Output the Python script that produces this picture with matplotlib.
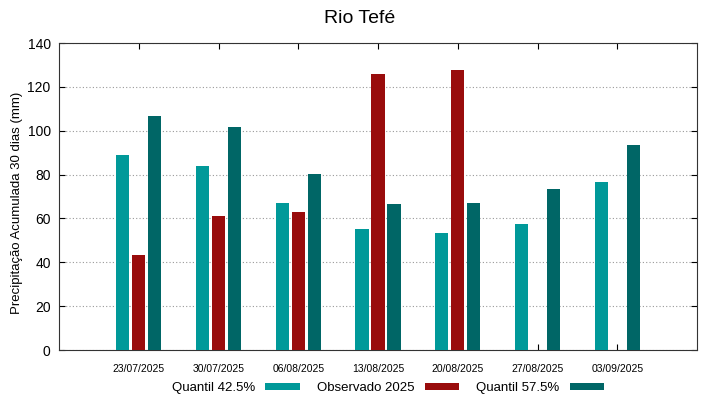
import matplotlib.pyplot as plt
import matplotlib.transforms as mtransforms
import numpy as np

plt.rcParams['font.family'] = ['Liberation Sans', 'DejaVu Sans']

# dados
datas = ["23/07/2025", "30/07/2025", "06/08/2025", "13/08/2025",
         "20/08/2025", "27/08/2025", "03/09/2025"]
quantil_425 = [89, 84, 67, 55, 53.3, 57.3, 76.6]
observado = [43.5, 61, 63, 125.8, 127.5, None, None]
quantil_575 = [106.8, 101.7, 80.4, 66.7, 67.2, 73.4, 93.7]

cor_q425 = "#009999"
cor_obs = "#990c0c"
cor_q575 = "#006666"

fig = plt.figure(figsize=(7.19, 3.99), dpi=100)
ax = fig.add_axes([59 / 719, 1 - 350 / 399, 638 / 719, 307 / 399])

x = np.arange(1, len(datas) + 1)
w = 0.165
obs_vals = [np.nan if v is None else v for v in observado]
ax.bar(x - 0.2, quantil_425, w, color=cor_q425, label="Quantil 42.5%", zorder=3)
ax.bar(x, obs_vals, w, color=cor_obs, label="Observado 2025", zorder=3)
ax.bar(x + 0.2, quantil_575, w, color=cor_q575, label="Quantil 57.5%", zorder=3)

ax.set_xlim(0, 8)
ax.set_ylim(0, 140)
ax.set_yticks(range(0, 141, 20))
ax.set_xticks(x)
ax.set_xticklabels(datas, fontsize=7.5)
offset = mtransforms.ScaledTranslation(5 / 100, 0, fig.dpi_scale_trans)
for lbl in ax.get_xticklabels():
    lbl.set_transform(lbl.get_transform() + offset)
ax.tick_params(axis='y', labelsize=10, direction='in', right=True, length=4, pad=6)
ax.tick_params(axis='x', direction='in', top=True, length=4, pad=10)
ax.yaxis.grid(True, linestyle=(0, (1, 2)), color="#999999", linewidth=0.8, zorder=0)
for s in ax.spines.values():
    s.set_linewidth(0.8)
    s.set_color("#333333")

ax.set_ylabel("Precipitação Acumulada 30 dias (mm)", fontsize=9.5)
ax.yaxis.set_label_coords(-36 / 638, 0.48)
fig.suptitle("Rio Tefé", fontsize=14, y=0.975)

fig.legend(loc="center", bbox_to_anchor=(388 / 719, 1 - 388 / 399), ncol=3,
           frameon=False, markerfirst=False, fontsize=9.5,
           handlelength=2.6, handleheight=0.45, columnspacing=1.3, handletextpad=0.8)

fig.savefig("out.png", dpi=100)
